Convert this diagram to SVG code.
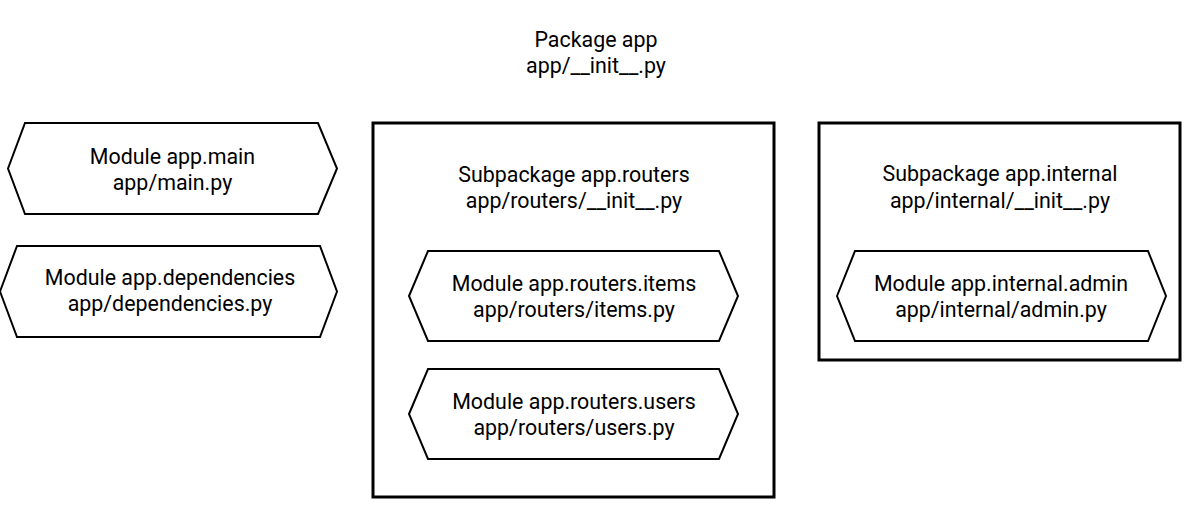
<svg xmlns="http://www.w3.org/2000/svg" width="1204" height="515" viewBox="0 0 1204 515">
<style>
text{font-family:Roboto,"Liberation Sans",sans-serif;font-size:21.4px;fill:#000;text-anchor:middle}
.hex{fill:#fff;stroke:#000;stroke-width:2}
.pkg{fill:#fff;stroke:#000;stroke-width:3}
</style>
<rect width="1204" height="515" fill="#fff"/>
<g id="connectors"></g>
<g id="package-app">
<text x="596" y="47">Package app</text>
<text x="596" y="73">app/__init__.py</text>
</g>
<g id="module-main">
<polygon class="hex" points="8,168.5 25,123 318,123 337,168.5 318,214 25,214"/>
<text x="172.5" y="164">Module app.main</text>
<text x="172.5" y="190">app/main.py</text>
</g>
<g id="module-dependencies">
<polygon class="hex" points="0,291.5 17,246 320,246 337,291.5 320,337 17,337"/>
<text x="170" y="285">Module app.dependencies</text>
<text x="170" y="311">app/dependencies.py</text>
</g>
<g id="subpackage-routers">
<rect class="pkg" x="373" y="123" width="401" height="374"/>
<text x="574" y="182">Subpackage app.routers</text>
<text x="574" y="208">app/routers/__init__.py</text>
</g>
<g id="module-items">
<polygon class="hex" points="409,296 428,251 719,251 738,296 719,341 428,341"/>
<text x="574" y="291">Module app.routers.items</text>
<text x="574" y="317">app/routers/items.py</text>
</g>
<g id="module-users">
<polygon class="hex" points="409,414 428,369 719,369 738,414 719,459 428,459"/>
<text x="574" y="409">Module app.routers.users</text>
<text x="574" y="435">app/routers/users.py</text>
</g>
<g id="subpackage-internal">
<rect class="pkg" x="819" y="123" width="361" height="237"/>
<text x="1000" y="181">Subpackage app.internal</text>
<text x="1000" y="208">app/internal/__init__.py</text>
</g>
<g id="module-admin">
<polygon class="hex" points="837,296 855,251 1148,251 1166,296 1148,341 855,341"/>
<text x="1001" y="291">Module app.internal.admin</text>
<text x="1001" y="317">app/internal/admin.py</text>
</g>
</svg>
